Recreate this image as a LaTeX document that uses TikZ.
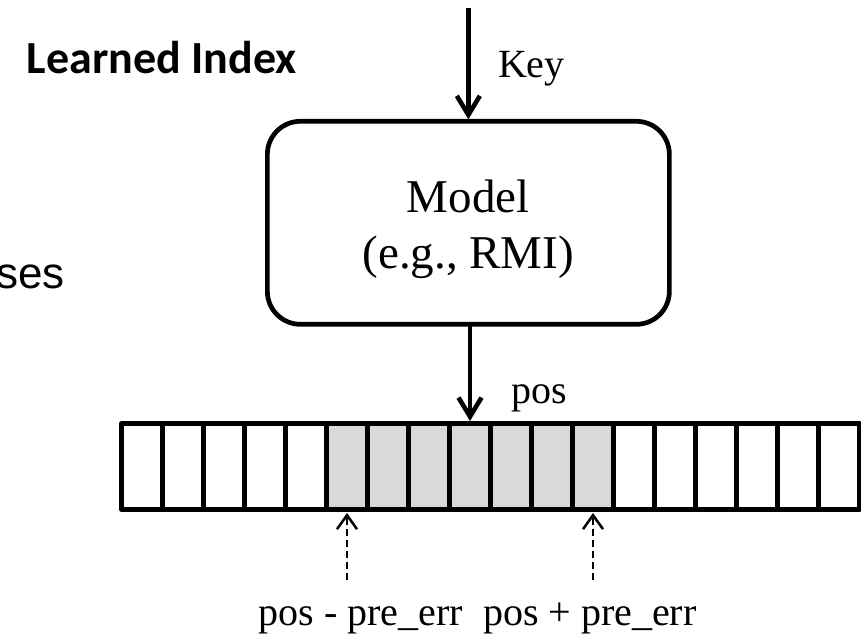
\documentclass[tikz,border=0pt]{standalone}
\usepackage{fontspec}
\setmainfont{Liberation Serif}
\newfontfamily\calibfont{Carlito}
\newfontfamily\arialfont{Liberation Sans}
\usetikzlibrary{arrows.meta}
\definecolor{cellgray}{HTML}{D9D9D9}
\begin{document}
\begin{tikzpicture}[x=1pt,y=-1pt,
  every node/.style={inner sep=0pt, outer sep=0pt},
  cellbox/.style={draw, line width=4.6pt, line join=round, minimum width=41pt, minimum height=86pt, fill=white},
  hitcell/.style={cellbox, fill=cellgray},
  modelbox/.style={draw, line width=4.7pt, rounded corners=33pt, minimum width=402pt, minimum height=203pt},
  mainarrow/.style={line width=4.6pt, -{Straight Barb[length=19pt,width=23pt]}},
  dasharrow/.style={line width=2.5pt, dash pattern=on 7pt off 4pt, -{Straight Barb[length=14pt,width=20pt]}},
  lbl/.style={font=\fontsize{40}{48}\selectfont},
  modeltext/.style={font=\fontsize{47}{56}\selectfont},
  titletext/.style={font={\fontsize{46}{55}\selectfont\calibfont\bfseries}},
  sidetext/.style={font={\fontsize{44}{53}\selectfont\arialfont}}
]
\useasboundingbox (0,0) rectangle (861,640);

% title and side text
\node[titletext, anchor=base west] (title) at (27,73) {Learned Index};
\node[sidetext, anchor=base east] (side) at (65,288) {ses};

% model box
\node[modelbox] (model) at (468.35,222.8) {};
\node[modeltext, anchor=base] (mline1) at (468.3,212) {Model};
\node[modeltext, anchor=base] (mline2) at (468.3,268) {(e.g., RMI)};

% key arrow
\coordinate (keytop) at (468.35,8);
\draw[mainarrow, shorten >=2pt] (keytop) -- (model.north);
\node[lbl, anchor=base west] (keylbl) at (498,77) {Key};

% array cells
\foreach \k in {1,...,5,13,14,15,16,17,18}
  \node[cellbox] (c\k) at ({121.5+(\k-0.5)*41},466.5) {};
\foreach \k in {6,...,12}
  \node[hitcell] (c\k) at ({121.5+(\k-0.5)*41},466.5) {};

% pos arrow
\draw[mainarrow, shorten >=2.5pt] (c9.north |- model.south) -- (c9.north);
\node[lbl, anchor=base west] (poslbl) at (511,403) {pos};

% dashed arrows
\path (c6.south) ++(0,70.6) coordinate (e1);
\path (c12.south) ++(0,70.6) coordinate (e2);
\draw[dasharrow, shorten >=3.5pt] (e1) -- (c6.south);
\draw[dasharrow, shorten >=3.5pt] (e2) -- (c12.south);

% bound labels
\node[lbl, anchor=base east] (lo) at (463,625) {pos - pre\_err};
\node[lbl, anchor=base west] (hi) at (483,625) {pos + pre\_err};
\end{tikzpicture}
\end{document}
